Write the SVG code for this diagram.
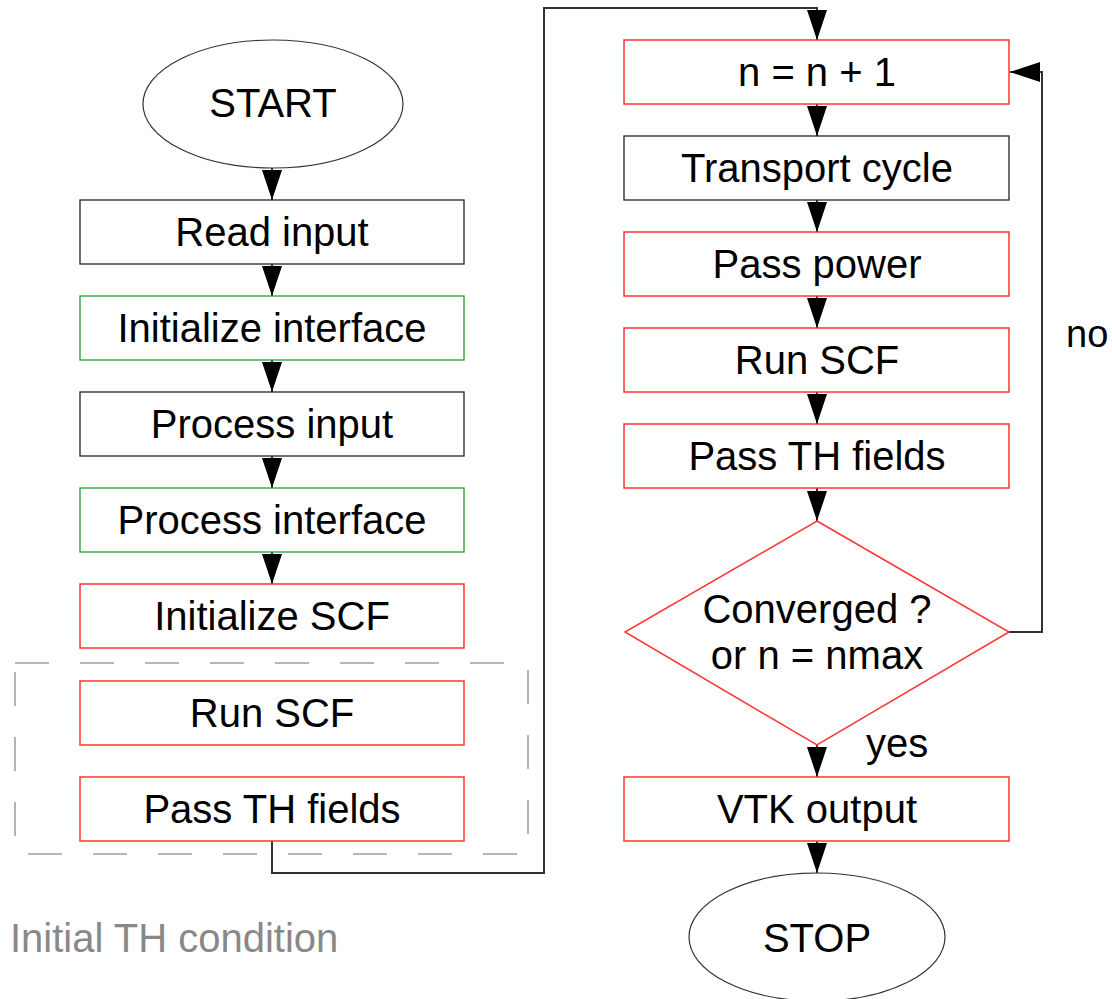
<svg xmlns="http://www.w3.org/2000/svg" width="1112" height="999" viewBox="0 0 1112 999">
<defs>
<style>
.t{font-family:"Liberation Sans",Arial,sans-serif;font-size:40px;fill:#000;text-anchor:middle}
.blk{fill:#fff;stroke:#222;stroke-width:1.3}
.red{fill:#fff;stroke:#ff3333;stroke-width:1.5}
.grn{fill:#fff;stroke:#2e9a2e;stroke-width:1.3}
.ell{fill:#fff;stroke:#333;stroke-width:1.2}
.c{fill:none;stroke:#333;stroke-width:2}
</style>
<marker id="ah" markerUnits="userSpaceOnUse" markerWidth="30" markerHeight="20" viewBox="0 0 30 20" refX="30" refY="10" orient="auto">
<path d="M0,0 L30,10 L0,20 Z" fill="#000"/>
</marker>
</defs>
<rect width="1112" height="999" fill="#fff"/>

<g id="group-initial">
<rect x="15" y="663" width="513" height="191" fill="none" stroke="#a0a0a0" stroke-width="1.6" stroke-dasharray="34 31"/>
<text x="10" y="952" style="font-family:'Liberation Sans',Arial,sans-serif;font-size:40px;fill:#888">Initial TH condition</text>
</g>

<g id="connectors">
<line class="c" x1="272" y1="168" x2="272" y2="200" marker-end="url(#ah)"/>
<line class="c" x1="272" y1="264" x2="272" y2="296" marker-end="url(#ah)"/>
<line class="c" x1="272" y1="360" x2="272" y2="392" marker-end="url(#ah)"/>
<line class="c" x1="272" y1="456" x2="272" y2="488" marker-end="url(#ah)"/>
<line class="c" x1="272" y1="552" x2="272" y2="584" marker-end="url(#ah)"/>
<polyline class="c" points="272,841 272,873 544,873 544,8 817,8 817,40" marker-end="url(#ah)"/>
<line class="c" x1="817" y1="104" x2="817" y2="136" marker-end="url(#ah)"/>
<line class="c" x1="817" y1="200" x2="817" y2="232" marker-end="url(#ah)"/>
<line class="c" x1="817" y1="296" x2="817" y2="328" marker-end="url(#ah)"/>
<line class="c" x1="817" y1="392" x2="817" y2="424" marker-end="url(#ah)"/>
<line class="c" x1="817" y1="488" x2="817" y2="521" marker-end="url(#ah)"/>
<line class="c" x1="817" y1="745" x2="817" y2="777" marker-end="url(#ah)"/>
<line class="c" x1="817" y1="841" x2="817" y2="873" marker-end="url(#ah)"/>
<polyline class="c" points="1009,632 1042,632 1042,72 1010,72" marker-end="url(#ah)"/>
<text class="t" x="1066" y="347" style="text-anchor:start;font-size:38px">no</text>
<text class="t" x="866" y="757" style="text-anchor:start">yes</text>
</g>

<g id="start"><ellipse class="ell" cx="273" cy="104" rx="130" ry="64"/><text class="t" x="273" y="117">START</text></g>
<g id="read-input"><rect class="blk" x="80" y="200" width="384" height="64"/><text class="t" x="272" y="246">Read input</text></g>
<g id="init-interface"><rect class="grn" x="80" y="296" width="384" height="64"/><text class="t" x="272" y="342">Initialize interface</text></g>
<g id="process-input"><rect class="blk" x="80" y="392" width="384" height="64"/><text class="t" x="272" y="438">Process input</text></g>
<g id="process-interface"><rect class="grn" x="80" y="488" width="384" height="64"/><text class="t" x="272" y="534">Process interface</text></g>
<g id="init-scf"><rect class="red" x="80" y="584" width="384" height="64"/><text class="t" x="272" y="630">Initialize SCF</text></g>
<g id="run-scf-1"><rect class="red" x="80" y="681" width="384" height="64"/><text class="t" x="272" y="727">Run SCF</text></g>
<g id="pass-th-1"><rect class="red" x="80" y="777" width="384" height="64"/><text class="t" x="272" y="823">Pass TH fields</text></g>

<g id="n-inc"><rect class="red" x="624" y="40" width="385" height="64"/><text class="t" x="817" y="86">n = n + 1</text></g>
<g id="transport"><rect class="blk" x="624" y="136" width="385" height="64"/><text class="t" x="817" y="182">Transport cycle</text></g>
<g id="pass-power"><rect class="red" x="624" y="232" width="385" height="64"/><text class="t" x="817" y="278">Pass power</text></g>
<g id="run-scf-2"><rect class="red" x="624" y="328" width="385" height="64"/><text class="t" x="817" y="374">Run SCF</text></g>
<g id="pass-th-2"><rect class="red" x="624" y="424" width="385" height="64"/><text class="t" x="817" y="470">Pass TH fields</text></g>
<g id="converged"><polygon class="red" points="817,521 1009,632 817,745 625,632"/><text class="t" x="817" y="623">Converged ?</text><text class="t" x="817" y="669">or n = nmax</text></g>
<g id="vtk"><rect class="red" x="624" y="777" width="385" height="64"/><text class="t" x="817" y="823">VTK output</text></g>
<g id="stop"><ellipse class="ell" cx="817" cy="937" rx="128" ry="64"/><text class="t" x="817" y="952">STOP</text></g>
</svg>
